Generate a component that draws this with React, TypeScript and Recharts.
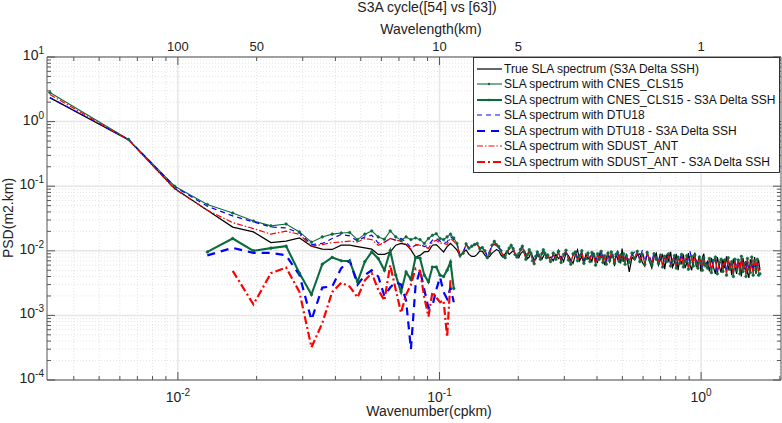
import React from 'react';
import { ComposedChart, Line, XAxis, YAxis, CartesianGrid, Legend } from 'recharts';

// wavenumber grid (cpkm)
const wavenumbers = [
  0.00324, 0.00648, 0.00972, 0.01296, 0.0162, 0.01944, 0.02268, 0.02592, 0.02916, 0.0324, 0.03564, 0.03888,
  0.04212, 0.04536, 0.0486, 0.05184, 0.05508, 0.05832, 0.06156, 0.0648, 0.06804, 0.07128, 0.07452, 0.07776,
  0.081, 0.08424, 0.08748, 0.09072, 0.09396, 0.0972, 0.10044, 0.10368, 0.10692, 0.11016, 0.1134, 0.11664,
  0.11988, 0.12312, 0.12636, 0.1296, 0.13284, 0.13608, 0.13932, 0.14256,
  0.1458, 0.14904, 0.15228, 0.15552, 0.15876, 0.162, 0.16524, 0.16848, 0.17172, 0.17496, 0.1782, 0.18144,
  0.18468, 0.18792, 0.19116, 0.1944, 0.19764, 0.20088, 0.20412, 0.20736, 0.2106, 0.21384, 0.21708, 0.22032,
  0.22356, 0.2268, 0.23004, 0.23328, 0.23652, 0.23976, 0.243, 0.24624, 0.24948, 0.25272, 0.25596, 0.2592,
  0.26568, 0.27216, 0.27864, 0.28512, 0.2916, 0.29808, 0.30456, 0.31104, 0.31752, 0.324, 0.33048, 0.33696,
  0.34344, 0.34992, 0.3564, 0.36288, 0.36936, 0.37584, 0.38232, 0.3888, 0.39528, 0.40176, 0.40824, 0.41472,
  0.4212, 0.42768, 0.43416, 0.44064, 0.44712, 0.4536, 0.46008, 0.46656, 0.47304, 0.47952, 0.486, 0.49248,
  0.49896, 0.50544, 0.51192, 0.5184,
  0.53136, 0.54432, 0.55728, 0.57024, 0.5832, 0.59616, 0.60912, 0.62208, 0.63504, 0.648, 0.66096, 0.67392,
  0.68688, 0.69984, 0.7128, 0.72576, 0.73872, 0.75168, 0.76464, 0.7776, 0.79056, 0.80352, 0.81648, 0.82944,
  0.8424, 0.85536, 0.86832, 0.88128, 0.89424, 0.9072, 0.92016, 0.93312, 0.94608, 0.95904, 0.972, 0.98496,
  0.99792, 1.01088, 1.02384, 1.0368,
  1.05624, 1.07568, 1.09512, 1.11456, 1.134, 1.15344, 1.17288, 1.19232, 1.21176, 1.2312, 1.25064, 1.27008,
  1.28952, 1.30896, 1.3284, 1.34784, 1.36728, 1.38672, 1.40616, 1.4256, 1.44504, 1.46448, 1.48392, 1.50336,
  1.5228, 1.54224, 1.56168, 1.58112, 1.60056, 1.62, 1.63944, 1.65888, 1.67832,
];

const trueSla = [
  2.35, 0.52, 0.092, 0.0425, 0.0233, 0.0196, 0.0134, 0.0141, 0.0158, 0.0118, 0.0106, 0.0105,
  0.0122, 0.0122, 0.0116, 0.0111, 0.0106, 0.0088, 0.0088, 0.0096, 0.0122, 0.013, 0.0125, 0.0103,
  0.008, 0.0085, 0.0096, 0.0098, 0.0122, 0.0125, 0.0109, 0.0096, 0.0116, 0.013, 0.0116, 0.0103,
  0.0083, 0.0094, 0.0103, 0.0088, 0.0082, 0.0082, 0.0088, 0.01,
  0.0098, 0.0086, 0.0078, 0.0082, 0.0092, 0.0098, 0.0105, 0.01, 0.0086, 0.008, 0.009, 0.0098,
  0.0088, 0.0094, 0.01, 0.0092, 0.0082, 0.0078, 0.009, 0.0096, 0.0102, 0.0086, 0.0076, 0.008,
  0.0094, 0.0082, 0.0072, 0.0074, 0.0084, 0.0088, 0.008, 0.0074, 0.0082, 0.009, 0.0086, 0.0078,
  0.008, 0.007, 0.0088, 0.0076, 0.0082, 0.0068, 0.0092, 0.0084, 0.0072, 0.0064, 0.0086, 0.0104,
  0.007, 0.0082, 0.0062, 0.0088, 0.0074, 0.008, 0.0068, 0.0094, 0.0072, 0.0066, 0.009, 0.0078,
  0.0084, 0.006, 0.0076, 0.0096, 0.0068, 0.008, 0.0086, 0.0058, 0.0092, 0.0074, 0.0082, 0.0064,
  0.0108, 0.007, 0.0076, 0.0086,
  0.0047, 0.008, 0.0072, 0.0086, 0.009, 0.0066, 0.0058, 0.0098, 0.0068, 0.0054, 0.008, 0.0092,
  0.006, 0.0074, 0.0086, 0.0052, 0.0084, 0.007, 0.0096, 0.0056, 0.0066, 0.009, 0.005, 0.0076,
  0.0062, 0.0088, 0.0054, 0.0064, 0.0092, 0.006, 0.005, 0.0074, 0.0094, 0.0056, 0.0068, 0.0084,
  0.0048, 0.0078, 0.009, 0.0058,
  0.0068, 0.0048, 0.0078, 0.0056, 0.0044, 0.008, 0.0058, 0.0046, 0.0074, 0.0054, 0.0082, 0.005,
  0.0066, 0.0042, 0.0076, 0.0056, 0.0044, 0.0072, 0.006, 0.004, 0.0078, 0.0052, 0.007, 0.0046,
  0.0038, 0.0074, 0.0058, 0.0048, 0.008, 0.0044, 0.0062, 0.0072, 0.005,
];

const cnes = [
  2.82, 0.53, 0.1, 0.052, 0.0385, 0.029, 0.0243, 0.026, 0.0196, 0.0136, 0.0164, 0.0181,
  0.0189, 0.0192, 0.0149, 0.0181, 0.0203, 0.0164, 0.0151, 0.0203, 0.0164, 0.0146, 0.0164, 0.0149,
  0.0158, 0.0149, 0.013, 0.0155, 0.0174, 0.0184, 0.0155, 0.0149, 0.0164, 0.0181, 0.0158, 0.013,
  0.0085, 0.0092, 0.0128, 0.011, 0.0118, 0.0125, 0.013, 0.0108,
  0.0112, 0.01, 0.0078, 0.0092, 0.0122, 0.014, 0.0124, 0.0116, 0.01, 0.0082, 0.0078, 0.0097,
  0.011, 0.0122, 0.0108, 0.0088, 0.008, 0.009, 0.0106, 0.0118, 0.0096, 0.0074, 0.0088, 0.0104,
  0.0092, 0.007, 0.0063, 0.0082, 0.0096, 0.0086, 0.0074, 0.009, 0.0104, 0.0092, 0.0078, 0.0086,
  0.0068, 0.0092, 0.0074, 0.0098, 0.0066, 0.0088, 0.0102, 0.0072, 0.0062, 0.009, 0.0096, 0.007,
  0.0084, 0.01, 0.0064, 0.0076, 0.0092, 0.0068, 0.0094, 0.0086, 0.006, 0.009, 0.0074, 0.0098,
  0.0066, 0.0084, 0.0062, 0.0092, 0.007, 0.0096, 0.0082, 0.0064, 0.0088, 0.0094, 0.0068, 0.0086,
  0.0072, 0.009, 0.0062, 0.0084,
  0.0066, 0.0092, 0.0076, 0.0098, 0.0068, 0.0088, 0.0062, 0.0094, 0.0072, 0.006, 0.009, 0.0074,
  0.0064, 0.0086, 0.0056, 0.0082, 0.0068, 0.009, 0.0058, 0.007, 0.0084, 0.0054, 0.008, 0.0064,
  0.0088, 0.0056, 0.0068, 0.0084, 0.0052, 0.0066, 0.0082, 0.0058, 0.0086, 0.0062, 0.0054, 0.008,
  0.0064, 0.005, 0.0078, 0.006,
  0.0054, 0.0076, 0.0046, 0.007, 0.008, 0.0044, 0.0066, 0.0074, 0.0048, 0.0072, 0.0042, 0.0078,
  0.0052, 0.0068, 0.004, 0.0074, 0.005, 0.0072, 0.0044, 0.0082, 0.0048, 0.0064, 0.004, 0.0076,
  0.0052, 0.0046, 0.008, 0.0042, 0.007, 0.005, 0.0074, 0.0042, 0.0044,
];

const dtu = [
  2.35, 0.53, 0.098, 0.049, 0.0347, 0.028, 0.0234, 0.0226, 0.0189, 0.0125, 0.013, 0.0155,
  0.0179, 0.017, 0.0142, 0.0164, 0.0174, 0.0132, 0.0136, 0.0155, 0.0146, 0.0155, 0.0137, 0.0111,
  0.0122, 0.0125, 0.0116, 0.0122, 0.0146, 0.0155, 0.0141, 0.0134, 0.0137, 0.0167, 0.0146, 0.013,
  0.0083, 0.0095, 0.0127, 0.0108, 0.0118, 0.0125, 0.0128, 0.011,
  0.0114, 0.0102, 0.0084, 0.0098, 0.0126, 0.0124, 0.013, 0.011, 0.0104, 0.0088, 0.0078, 0.0092,
  0.0112, 0.0116, 0.011, 0.0092, 0.0081, 0.0086, 0.0098, 0.0114, 0.0098, 0.0082, 0.0084, 0.0096,
  0.0094, 0.008, 0.0072, 0.0076, 0.009, 0.008, 0.0082, 0.0094, 0.01, 0.0096, 0.0084, 0.0088,
  0.0076, 0.0084, 0.0082, 0.0102, 0.0074, 0.008, 0.0094, 0.008, 0.007, 0.0082, 0.01, 0.0078,
  0.0076, 0.0092, 0.0072, 0.0082, 0.0084, 0.0076, 0.0096, 0.0078, 0.0068, 0.0082, 0.008, 0.0104,
  0.0074, 0.0076, 0.007, 0.0084, 0.0078, 0.0098, 0.0074, 0.0072, 0.008, 0.0096, 0.0076, 0.0078,
  0.008, 0.0082, 0.007, 0.0076,
  0.0074, 0.0084, 0.0098, 0.009, 0.0076, 0.0102, 0.0068, 0.0086, 0.0082, 0.0066, 0.0096, 0.0074,
  0.007, 0.0092, 0.0062, 0.0074, 0.0076, 0.0098, 0.0064, 0.0072, 0.0084, 0.006, 0.0072, 0.0072,
  0.009, 0.0062, 0.0068, 0.0076, 0.0058, 0.0098, 0.0074, 0.0064, 0.0078, 0.007, 0.0056, 0.0072,
  0.0072, 0.0056, 0.007, 0.0068,
  0.006, 0.0068, 0.0054, 0.008, 0.0072, 0.0046, 0.006, 0.0066, 0.0056, 0.0064, 0.005, 0.007,
  0.0058, 0.006, 0.0048, 0.0066, 0.0058, 0.0064, 0.0052, 0.0074, 0.0056, 0.0058, 0.0048, 0.0068,
  0.0054, 0.0054, 0.0072, 0.005, 0.0062, 0.0056, 0.0066, 0.0052, 0.005,
];

const sdust = [
  2.63, 0.52, 0.09, 0.0425, 0.0273, 0.0221, 0.0181, 0.0201, 0.0179, 0.0118, 0.0125, 0.0134,
  0.0137, 0.0141, 0.0137, 0.0155, 0.0149, 0.0122, 0.0134, 0.0155, 0.0146, 0.0141, 0.0125, 0.0106,
  0.0126, 0.0122, 0.0116, 0.0109, 0.0137, 0.0146, 0.0131, 0.0131, 0.0125, 0.0155, 0.0141, 0.0122,
  0.008, 0.0095, 0.0125, 0.0107, 0.0115, 0.0122, 0.0125, 0.0106,
  0.011, 0.0098, 0.0082, 0.009, 0.0118, 0.0128, 0.012, 0.0112, 0.0098, 0.0085, 0.008, 0.0095,
  0.0108, 0.0118, 0.0105, 0.009, 0.0083, 0.0088, 0.01, 0.0112, 0.0094, 0.0078, 0.0086, 0.0099,
  0.009, 0.0072, 0.0066, 0.008, 0.0092, 0.0084, 0.0076, 0.0088, 0.0098, 0.009, 0.008, 0.0084,
  0.0072, 0.0088, 0.0078, 0.0094, 0.007, 0.0084, 0.0098, 0.0076, 0.0066, 0.0086, 0.0092, 0.0074,
  0.008, 0.0096, 0.0068, 0.0078, 0.0088, 0.0072, 0.009, 0.0082, 0.0064, 0.0086, 0.0076, 0.0094,
  0.007, 0.008, 0.0066, 0.0088, 0.0074, 0.0092, 0.0078, 0.0068, 0.0084, 0.009, 0.0072, 0.0082,
  0.0076, 0.0086, 0.0066, 0.008,
  0.007, 0.0088, 0.008, 0.0094, 0.0072, 0.0084, 0.0066, 0.009, 0.0076, 0.0064, 0.0086, 0.0078,
  0.0068, 0.0082, 0.006, 0.0078, 0.0072, 0.0086, 0.0062, 0.0074, 0.008, 0.0058, 0.0076, 0.0068,
  0.0084, 0.006, 0.0072, 0.008, 0.0056, 0.007, 0.0078, 0.0062, 0.0082, 0.0066, 0.0058, 0.0076,
  0.0068, 0.0054, 0.0074, 0.0064,
  0.0058, 0.0072, 0.005, 0.0066, 0.0076, 0.0048, 0.0062, 0.007, 0.0052, 0.0068, 0.0046, 0.0074,
  0.0056, 0.0064, 0.0044, 0.007, 0.0054, 0.0068, 0.0048, 0.0078, 0.0052, 0.006, 0.0044, 0.0072,
  0.0056, 0.005, 0.0076, 0.0046, 0.0066, 0.0054, 0.007, 0.0048, 0.0056,
];

// differences only reach ~0.11 cpkm
const cnesDiff = [
  null, null, null, 0.0096, 0.0155, 0.01, 0.011, 0.0118, 0.0045, 0.0021, 0.0062, 0.0079,
  0.007, 0.0069, 0.0033, 0.0068, 0.0096, 0.0076, 0.005, 0.01, 0.0042, 0.0023, 0.0047, 0.0036,
  0.0079, 0.0077, 0.0042, 0.0033, 0.0056, 0.0056, 0.0042, 0.004, 0.005, 0.0067, 0.0026,
];
const dtuDiff = [
  null, null, null, 0.0085, 0.0111, 0.0093, 0.0093, 0.0085, 0.0042, 0.00085, 0.0027, 0.0028,
  0.0054, 0.0071, 0.003, 0.0042, 0.005, 0.004, 0.002, 0.0027, 0.0033, 0.003, 0.0017, 0.0003,
  0.0029, 0.005, 0.0025, 0.0013, 0.0014, 0.0025, 0.0039, 0.0023, 0.0018, 0.0027, 0.0016,
];
const sdustDiff = [
  null, null, null, null, 0.0049, 0.00148, 0.0045, 0.0055, 0.0023, 0.00032, 0.00076, 0.0023,
  0.0032, 0.0028, 0.0019, 0.0035, 0.0045, 0.0025, 0.0017, 0.006, 0.0025, 0.0011, 0.0021, 0.003,
  0.0053, 0.0049, 0.0019, 0.00096, 0.0023, 0.0019, 0.0016, 0.0017, 0.00046, 0.0035,
];

const xMajor = [0.01, 0.1, 1];
const xMinor = [
  0.004, 0.005, 0.006, 0.007, 0.008, 0.009, 0.02, 0.03, 0.04, 0.05, 0.06, 0.07, 0.08, 0.09,
  0.2, 0.3, 0.4, 0.5, 0.6, 0.7, 0.8, 0.9, 2,
];
const yMajor = [0.0001, 0.001, 0.01, 0.1, 1, 10];
const yMinor = [
  0.0002, 0.0003, 0.0004, 0.0005, 0.0006, 0.0007, 0.0008, 0.0009,
  0.002, 0.003, 0.004, 0.005, 0.006, 0.007, 0.008, 0.009,
  0.02, 0.03, 0.04, 0.05, 0.06, 0.07, 0.08, 0.09,
  0.2, 0.3, 0.4, 0.5, 0.6, 0.7, 0.8, 0.9,
  2, 3, 4, 5, 6, 7, 8, 9,
];
const xExponents: Record<number, string> = { 0.01: '-2', 0.1: '-1', 1: '0' };
const yExponents: Record<number, string> = { 0.0001: '-4', 0.001: '-3', 0.01: '-2', 0.1: '-1', 1: '0', 10: '1' };
const wavelengthLabels: Record<number, string> = { 0.01: '100', 0.02: '50', 0.1: '10', 0.2: '5', 1: '1' };

const GREEN = '#0b6b3f';
const BLUE = '#0000ff';
const RED = '#ff0000';
const FONT = '"Liberation Sans", Arial, sans-serif';
const AXIS = '#555';

const series = [
  { key: 'trueSla', name: 'True SLA spectrum (S3A Delta SSH)', color: '#000', width: 1.2, dash: undefined, dot: false },
  { key: 'cnes', name: 'SLA spectrum with CNES_CLS15', color: GREEN, width: 1.1, dash: undefined, dot: true },
  { key: 'cnesDiff', name: 'SLA spectrum with CNES_CLS15 - S3A Delta SSH', color: GREEN, width: 2.1, dash: undefined, dot: true },
  { key: 'dtu', name: 'SLA spectrum with DTU18', color: BLUE, width: 1.2, dash: '5 4', dot: false },
  { key: 'dtuDiff', name: 'SLA spectrum with DTU18 - S3A Delta SSH', color: BLUE, width: 2.2, dash: '8 6', dot: false },
  { key: 'sdust', name: 'SLA spectrum with SDUST_ANT', color: RED, width: 1.2, dash: '6 2 1.5 2', dot: false },
  { key: 'sdustDiff', name: 'SLA spectrum with SDUST_ANT - S3A Delta SSH', color: RED, width: 2.2, dash: '8 3 2 3', dot: false },
];

const rows = wavenumbers.map((k, i) => ({
  k,
  trueSla: trueSla[i],
  cnes: cnes[i],
  cnesDiff: cnesDiff[i] ?? null,
  dtu: dtu[i],
  dtuDiff: dtuDiff[i] ?? null,
  sdust: sdust[i],
  sdustDiff: sdustDiff[i] ?? null,
}));

const PowerLabel = ({ x, y, exp, anchor }: any) => (
  <text x={x} y={y} textAnchor={anchor} fontFamily={FONT} fontSize={14} fill="#222">
    10
    <tspan dy={-6} fontSize={10}>{exp}</tspan>
  </text>
);

const BottomTick = ({ x, y, payload }: any) => {
  const major = xMajor.includes(payload.value);
  return (
    <g>
      <line x1={x} x2={x} y1={y} y2={y - (major ? 8 : 4)} stroke={AXIS} />
      {major && <PowerLabel x={x} y={y + 22} exp={xExponents[payload.value]} anchor="middle" />}
    </g>
  );
};

const TopTick = ({ x, y, payload }: any) => {
  const major = xMajor.includes(payload.value);
  const label = wavelengthLabels[payload.value];
  return (
    <g>
      <line x1={x} x2={x} y1={y} y2={y + (major ? 8 : 4)} stroke={AXIS} />
      {label && (
        <text x={x} y={y - 6} textAnchor="middle" fontFamily={FONT} fontSize={13} fill="#222">{label}</text>
      )}
    </g>
  );
};

const LeftTick = ({ x, y, payload }: any) => {
  const major = yMajor.includes(payload.value);
  return (
    <g>
      <line x1={x} x2={x + (major ? 8 : 4)} y1={y} y2={y} stroke={AXIS} />
      {major && <PowerLabel x={x - 3} y={y + 3} exp={yExponents[payload.value]} anchor="end" />}
    </g>
  );
};

const RightTick = ({ x, y, payload }: any) => {
  const major = yMajor.includes(payload.value);
  return <line x1={x} x2={x - (major ? 8 : 4)} y1={y} y2={y} stroke={AXIS} />;
};

const LegendBox = () => (
  <div
    style={{
      width: 305,
      height: 111,
      border: '1px solid #333',
      background: '#fff',
      fontFamily: FONT,
      fontSize: 12,
      color: '#111',
      paddingTop: 3,
    }}
  >
    {series.map((s) => (
      <div key={s.key} style={{ display: 'flex', alignItems: 'center', height: 15.5, whiteSpace: 'nowrap' }}>
        <svg width={30} height={10} style={{ flex: 'none' }}>
          <line x1={3} x2={28} y1={5} y2={5} stroke={s.color} strokeWidth={s.width} strokeDasharray={s.dash} />
          {s.dot && <circle cx={15} cy={5} r={1.2} fill={s.color} />}
        </svg>
        <span>{s.name}</span>
      </div>
    ))}
  </div>
);

const App = () => (
  <div style={{ position: 'absolute', left: 0, top: 0 }}>
    <ComposedChart width={782} height={423} data={rows} margin={{ top: 56, right: 0, bottom: 42, left: 46 }}>
      <CartesianGrid stroke="#e4e4e4" strokeDasharray="1 2" verticalValues={xMinor} horizontalValues={yMinor} />
      <CartesianGrid stroke="#e6e6e6" strokeWidth={1.5} verticalValues={xMajor} horizontalValues={yMajor} />
      <XAxis
        dataKey="k"
        type="number"
        scale="log"
        domain={[0.00316, 2.02]}
        allowDataOverflow
        ticks={[...xMajor, ...xMinor]}
        interval={0}
        height={1}
        tickSize={0}
        tickMargin={0}
        tick={<BottomTick />}
        stroke={AXIS}
      />
      <XAxis
        xAxisId="top"
        dataKey="k"
        orientation="top"
        type="number"
        scale="log"
        domain={[0.00316, 2.02]}
        allowDataOverflow
        ticks={[...xMajor, ...xMinor]}
        interval={0}
        height={1}
        tickSize={0}
        tickMargin={0}
        tick={<TopTick />}
        stroke={AXIS}
      />
      <YAxis
        type="number"
        scale="log"
        domain={[0.0001, 10]}
        allowDataOverflow
        ticks={[...yMajor, ...yMinor]}
        interval={0}
        width={1}
        tickSize={0}
        tickMargin={0}
        tick={<LeftTick />}
        stroke={AXIS}
      />
      <YAxis
        yAxisId="right"
        orientation="right"
        type="number"
        scale="log"
        domain={[0.0001, 10]}
        allowDataOverflow
        ticks={[...yMajor, ...yMinor]}
        interval={0}
        width={1}
        tickSize={0}
        tickMargin={0}
        tick={<RightTick />}
        stroke={AXIS}
      />
      {series.map((s) => (
        <Line
          key={s.key}
          dataKey={s.key}
          name={s.name}
          type="linear"
          stroke={s.color}
          strokeWidth={s.width}
          strokeDasharray={s.dash}
          dot={s.dot ? { r: 1.3, fill: s.color, stroke: s.color, strokeWidth: 0.6, strokeDasharray: undefined } : false}
          activeDot={false}
          isAnimationActive={false}
        />
      ))}
      <Legend
        layout="vertical"
        align="center"
        verticalAlign="middle"
        content={<LegendBox />}
        wrapperStyle={{ position: 'absolute', left: 473, top: 57, width: 307, height: 113, margin: 0 }}
      />
      <text x={427} y={12} textAnchor="middle" fontFamily={FONT} fontSize={14} fill="#222">S3A cycle([54] vs [63])</text>
      <text x={431} y={34} textAnchor="middle" fontFamily={FONT} fontSize={14} fill="#222">Wavelength(km)</text>
      <text x={429} y={416} textAnchor="middle" fontFamily={FONT} fontSize={14} fill="#222">Wavenumber(cpkm)</text>
      <text
        x={13}
        y={218}
        textAnchor="middle"
        fontFamily={FONT}
        fontSize={14}
        fill="#222"
        transform="rotate(-90 13 218)"
      >
        PSD(m2.km)
      </text>
    </ComposedChart>
  </div>
);

export default App;
